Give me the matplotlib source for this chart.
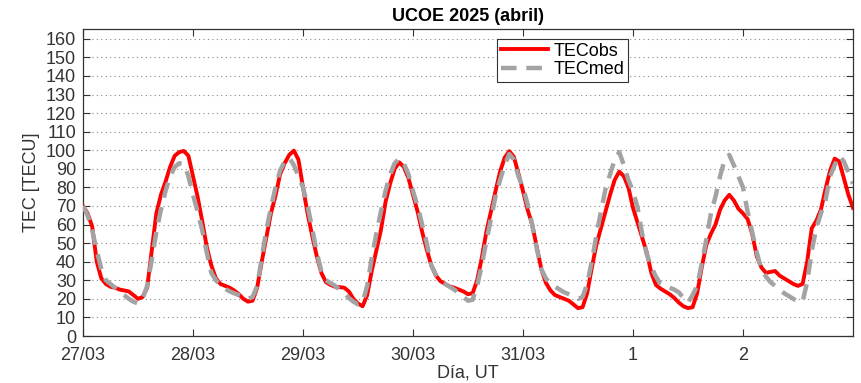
import numpy as np
import matplotlib.pyplot as plt

plt.rcParams['font.family'] = ['Liberation Sans', 'DejaVu Sans']

# Hourly TEC, 27/03 00 UT to 03/04 00 UT
tec_obs = [
    # 27/03
    70, 66, 59, 40, 31, 28, 26.5, 26, 25, 24.5, 24, 22,
    20, 21, 26, 46, 66, 76, 83, 91, 97, 99, 99.6, 97,
    # 28/03
    86, 75, 62, 48, 38, 31, 28, 27, 26, 24.5, 22.5, 20,
    18.5, 19, 26, 40, 53, 66, 75.5, 87, 93, 97.5, 99.8, 95,
    # 29/03
    80, 66, 54, 43, 34, 29, 27.5, 26.5, 26.3, 26, 24, 20,
    17.5, 16, 22, 35, 46, 57, 72, 82, 90, 93.5, 91, 85,
    # 30/03
    76, 67, 56, 46.5, 38, 32.5, 29.5, 28, 26.7, 26, 25, 24,
    22.5, 23, 30, 42, 56, 67, 78, 88.5, 96, 99.5, 96.5, 87.5,
    # 31/03
    78, 68, 60, 48, 36, 28.6, 24.5, 22, 21, 20, 19, 17,
    15, 15.5, 23, 36.5, 49, 58, 67, 76, 84, 88.5, 86, 80,
    # 01/04
    69, 61, 53, 45, 34, 27.5, 25.5, 24, 22.5, 20.5, 18, 16,
    15, 15.5, 23, 37, 49, 55, 60, 68, 73, 76, 73, 68.5,
    # 02/04
    66, 63, 55, 43, 37, 34, 34.5, 35, 32.5, 31, 29.5, 28,
    27, 28, 40, 58, 62, 68, 79, 89, 95.5, 94, 85, 76,
    69,
]

tec_med = [
    # 27/03
    70, 65, 57, 46, 36, 30, 28, 26, 24, 22, 20, 18.5,
    17.5, 20, 27, 41, 56, 68, 78, 86, 91, 93, 92.5, 86,
    # 28/03
    76, 67, 57, 45, 34, 30, 27.5, 25.5, 24, 23, 22, 21,
    20, 21, 27, 42, 57, 69, 80, 89, 94, 96, 92, 86,
    # 29/03
    80, 70, 58, 45, 35, 30, 28.5, 27, 25, 23, 20.5, 18.5,
    17, 18, 27, 42, 55, 67, 78, 87, 93, 95.5, 93, 87,
    # 30/03
    78, 70, 60, 50, 38, 33, 30, 28, 26.5, 25, 23, 21,
    19, 19.5, 27, 38, 51, 63, 75, 84, 92, 98, 95, 86,
    # 31/03
    80, 71, 60, 47, 36, 31, 28, 26.5, 25, 23.5, 22.5, 21.5,
    20, 21, 28, 40, 54, 67, 79, 87, 95, 99, 92, 84,
    # 01/04
    78, 69, 55, 44, 37, 32, 28, 27, 26, 25, 23.5, 20.5,
    18, 22, 27, 39, 52, 66, 75, 86, 95, 97.5, 92, 86,
    # 02/04
    80, 67, 56, 45, 36, 32, 29, 27, 25, 23, 21.5, 20,
    18.5, 18.5, 29, 46, 58, 66, 73, 86, 92, 97, 94, 88,
    82,
]

day_labels = ['27/03', '28/03', '29/03', '30/03', '31/03', '1', '2']

t = np.arange(len(tec_obs)) / 24.0

fig = plt.figure(figsize=(8.61, 3.83), dpi=100)
ax = fig.add_axes([0.0964, 0.1227, 0.8943, 0.8003])

ax.plot(t, tec_obs, color='red', lw=2.8, label='TECobs', zorder=3)
ax.plot(t, tec_med, color='#a3a3a3', lw=3.2, dashes=(3.5, 2.2),
        label='TECmed', zorder=4)

ax.set_xlim(0, 7)
ax.set_ylim(0, 165)
ax.set_yticks(np.arange(0, 161, 10))
ax.set_xticks(np.arange(len(day_labels)))
ax.set_xticklabels(day_labels)

ax.tick_params(direction='in', top=True, right=True, length=5,
               labelsize=13, colors='#333333')
ax.tick_params(axis='y', pad=5)
ax.tick_params(axis='x', pad=8)
for s in ax.spines.values():
    s.set_color('#333333')
    s.set_linewidth(0.9)

ax.yaxis.grid(True, linestyle=(0, (1, 3)), color='#888888', lw=0.8)
ax.set_axisbelow(True)

ax.set_title('UCOE 2025 (abril)', fontsize=13, fontweight='bold', pad=6)
ax.set_xlabel('Día, UT', fontsize=13, color='#333333', labelpad=0)
ax.set_ylabel('TEC [TECU]', fontsize=13, color='#333333', labelpad=4)

leg = ax.legend(loc='upper left', bbox_to_anchor=(0.538, 0.969),
                borderaxespad=0, fontsize=13, handlelength=2.6,
                handletextpad=0.3, labelspacing=0.1, borderpad=0.2,
                fancybox=False, framealpha=1, edgecolor='#333333')
leg.get_frame().set_linewidth(0.8)

fig.savefig('out.png', dpi=100)
